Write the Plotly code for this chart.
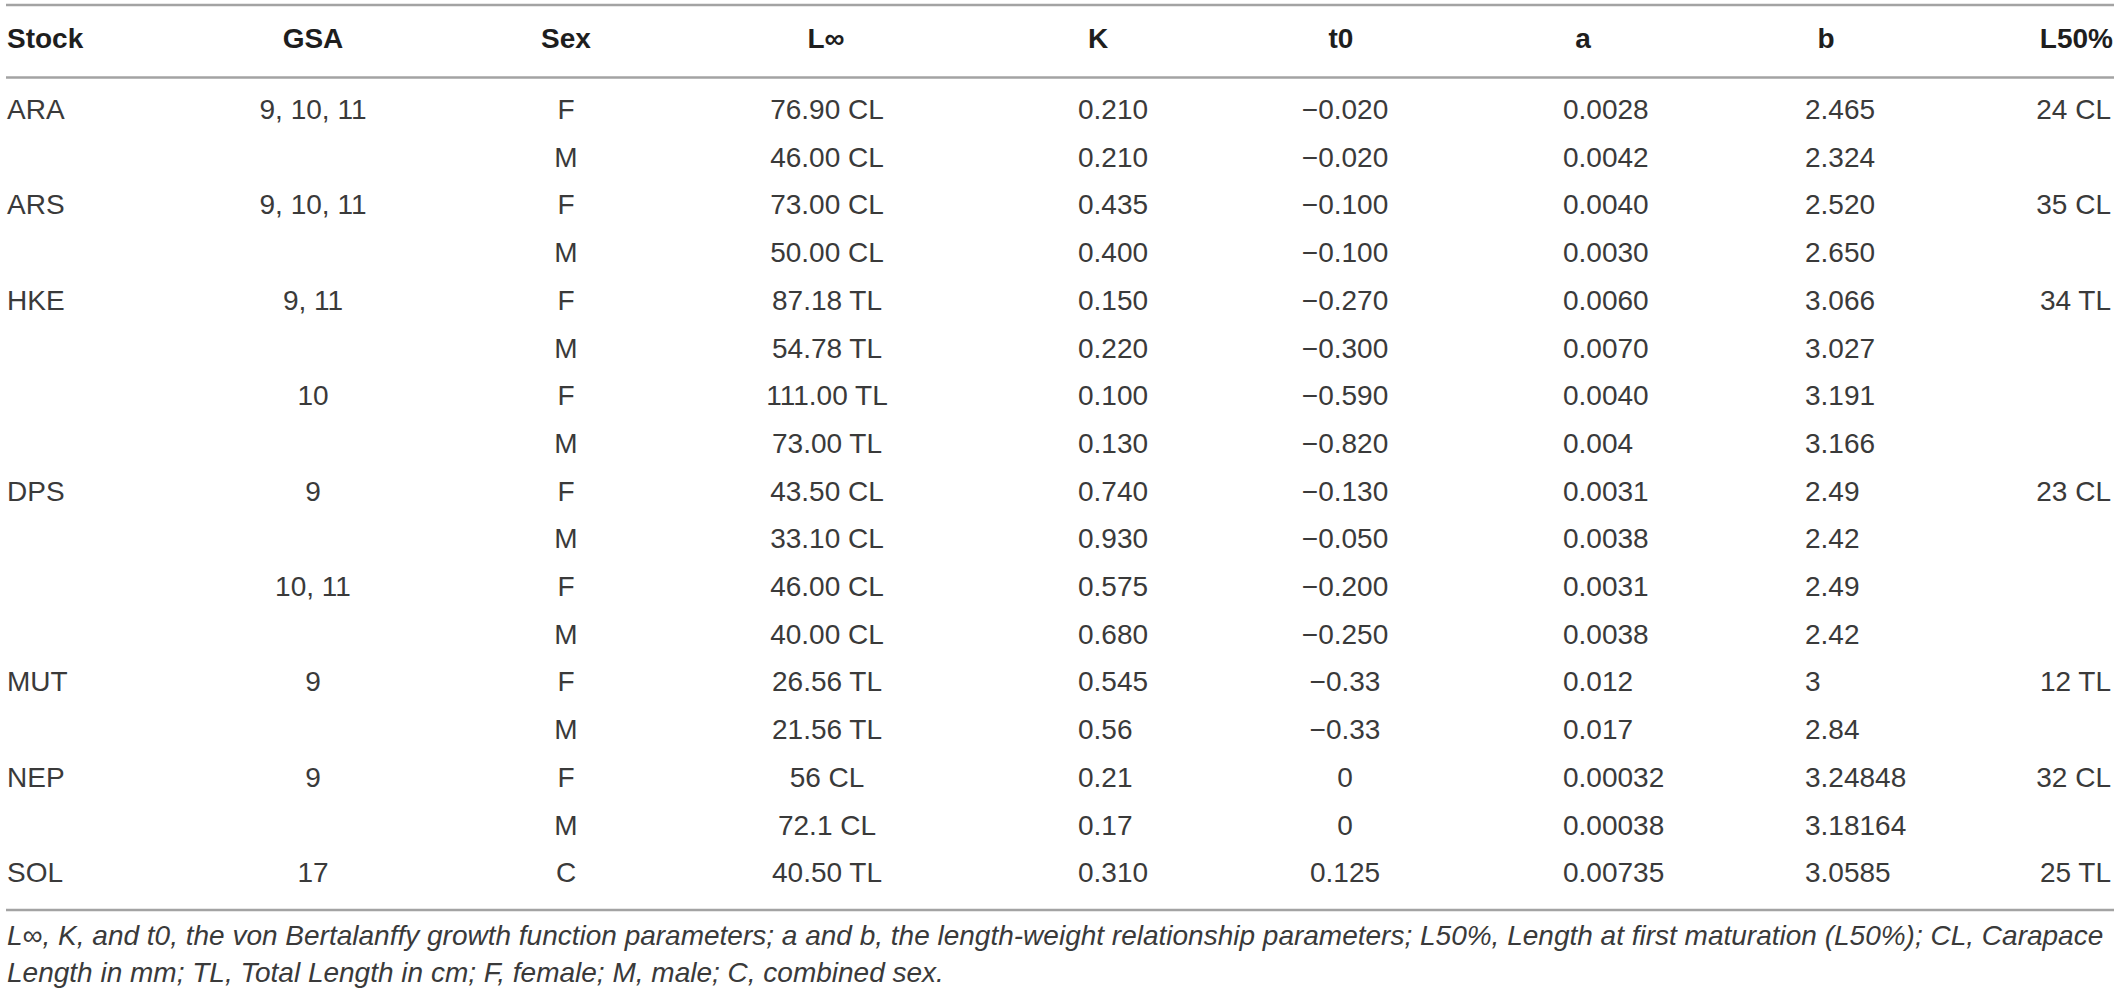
import plotly.graph_objects as go

# table content
headers = ["Stock", "GSA", "Sex", "L∞", "K", "t0", "a", "b", "L50%"]

stock = ["ARA", "", "ARS", "", "HKE", "", "", "", "DPS", "", "", "", "MUT", "", "NEP", "", "SOL"]
gsa = ["9, 10, 11", "", "9, 10, 11", "", "9, 11", "", "10", "", "9", "", "10, 11", "", "9", "", "9", "", "17"]
sex = ["F", "M", "F", "M", "F", "M", "F", "M", "F", "M", "F", "M", "F", "M", "F", "M", "C"]
l_inf = ["76.90 CL", "46.00 CL", "73.00 CL", "50.00 CL", "87.18 TL", "54.78 TL", "111.00 TL", "73.00 TL",
         "43.50 CL", "33.10 CL", "46.00 CL", "40.00 CL", "26.56 TL", "21.56 TL", "56 CL", "72.1 CL", "40.50 TL"]
k = ["0.210", "0.210", "0.435", "0.400", "0.150", "0.220", "0.100", "0.130", "0.740", "0.930",
     "0.575", "0.680", "0.545", "0.56", "0.21", "0.17", "0.310"]
t0 = ["−0.020", "−0.020", "−0.100", "−0.100", "−0.270", "−0.300", "−0.590", "−0.820", "−0.130", "−0.050",
      "−0.200", "−0.250", "−0.33", "−0.33", "0", "0", "0.125"]
a = ["0.0028", "0.0042", "0.0040", "0.0030", "0.0060", "0.0070", "0.0040", "0.004", "0.0031", "0.0038",
     "0.0031", "0.0038", "0.012", "0.017", "0.00032", "0.00038", "0.00735"]
b = ["2.465", "2.324", "2.520", "2.650", "3.066", "3.027", "3.191", "3.166", "2.49", "2.42",
     "2.49", "2.42", "3", "2.84", "3.24848", "3.18164", "3.0585"]
l50 = ["24 CL", "", "35 CL", "", "34 TL", "", "", "", "23 CL", "", "", "", "12 TL", "", "32 CL", "", "25 TL"]

footnote = [
    "L∞, K, and t0, the von Bertalanffy growth function parameters; a and b, the length-weight relationship "
    "parameters; L50%, Length at first maturation (L50%); CL, Carapace",
    "Length in mm; TL, Total Length in cm; F, female; M, male; C, combined sex.",
]

columns = [stock, gsa, sex, l_inf, k, t0, a, b, l50]

# layout (page pixels, y grows downward)
W, H = 2118, 991
FONT = "Liberation Sans, Arial, Helvetica, sans-serif"
FS = 28
head_y = 41
row_y0, row_step = 112, 47.7
line_ys = [5, 77.5, 910]
foot_ys = [938, 975]

# x anchor and text position for header / body of each column
head_pos = [(7, "middle right"), (313, "middle center"), (566, "middle center"), (826, "middle center"),
            (1098, "middle center"), (1341, "middle center"), (1583, "middle center"),
            (1826, "middle center"), (2113, "middle left")]
body_pos = [(7, "middle right"), (313, "middle center"), (566, "middle center"), (827, "middle center"),
            (1078, "middle right"), (1345, "middle center"), (1563, "middle right"),
            (1805, "middle right"), (2111, "middle left")]

rows_y = [row_y0 + i * row_step for i in range(len(sex))]

fig = go.Figure()

for (hx, hp), h in zip(head_pos, headers):
    fig.add_trace(go.Scatter(
        x=[hx], y=[head_y], mode="text", text=[h], textposition=hp,
        textfont=dict(family=FONT, size=FS, color="#1e1e1e", weight="bold"),
        hoverinfo="skip"))

for (bx, bp), col in zip(body_pos, columns):
    fig.add_trace(go.Scatter(
        x=[bx] * len(col), y=rows_y, mode="text", text=col, textposition=bp,
        textfont=dict(family=FONT, size=FS, color="#3a3a3a"),
        hoverinfo="skip"))

fig.add_trace(go.Scatter(
    x=[7] * len(footnote), y=foot_ys, mode="text", text=footnote, textposition="middle right",
    textfont=dict(family=FONT, size=FS, color="#3a3a3a", style="italic"),
    hoverinfo="skip"))

for ly in line_ys:
    fig.add_shape(type="line", x0=6, x1=2114, y0=ly, y1=ly, xref="x", yref="y",
                  line=dict(color="#a3a3a3", width=2.5))

fig.update_layout(
    width=W, height=H,
    margin=dict(l=0, r=0, t=0, b=0),
    paper_bgcolor="white", plot_bgcolor="white",
    showlegend=False,
    xaxis=dict(range=[0, W], visible=False, fixedrange=True),
    yaxis=dict(range=[H, 0], visible=False, fixedrange=True),
)

# drop the default page margin so the 2118x991 figure fits the window exactly
fig.write_html("out.html", config={"displayModeBar": False},
               post_script="document.body.style.margin='0px';document.body.style.overflow='hidden';")
